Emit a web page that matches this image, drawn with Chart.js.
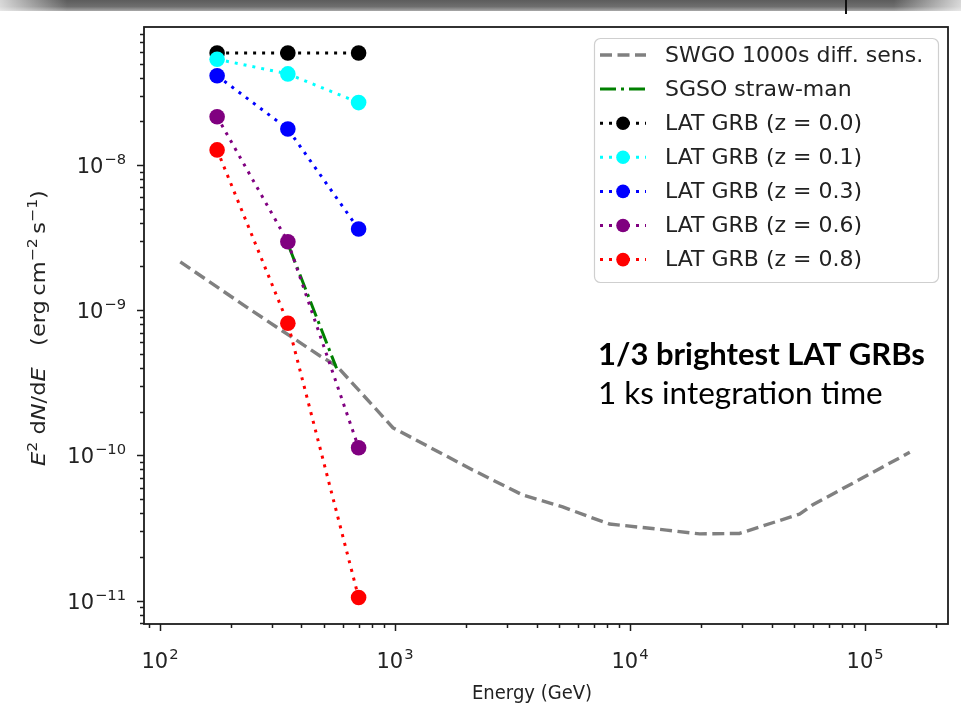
<!DOCTYPE html>
<html>
<head>
<meta charset="utf-8">
<script src="https://cdn.jsdelivr.net/npm/chart.js@4.4.1/dist/chart.umd.min.js"></script>
<style>
  html, body { margin: 0; padding: 0; background: #fff; }
  #wrap { position: relative; width: 961px; height: 715px; overflow: hidden; }
  #topbar {
    position: absolute; left: 0; top: 0; width: 961px; height: 11px;
    background:
      linear-gradient(to right, rgba(255,255,255,0.75), rgba(255,255,255,0) 7%, rgba(255,255,255,0) 93%, rgba(255,255,255,0.75)),
      linear-gradient(to bottom, #5c5c5c, #6e6e6e 60%, #a8a8a8);
  }
  #mark { position: absolute; left: 845px; top: 0; width: 2px; height: 14px; background: #111; }
</style>
</head>
<body>
<div id="wrap">
  <canvas id="c" width="961" height="715"></canvas>
  <div id="topbar"></div>
  <div id="mark"></div>
</div>
<script>
// ---- data (GeV, erg cm^-2 s^-1) ----
const latEnergy = [175, 350, 700];
const latZ00 = [5.9e-8, 5.9e-8, 5.9e-8];
const latZ01 = [5.35e-8, 4.24e-8, 2.69e-8];
const latZ03 = [4.12e-8, 1.77e-8, 3.62e-9];
const latZ06 = [2.15e-8, 2.96e-9, 1.13e-10];
const latZ08 = [1.27e-8, 8.13e-10, 1.05e-11];

const swgoEnergy = [122, 240, 480, 565, 980, 2140, 3500, 5170, 6730, 8180, 14300, 19800, 29200, 52600, 59700, 155000];
const swgoFlux = [2.15e-9, 1.02e-9, 4.84e-10, 4.13e-10, 1.55e-10, 7.94e-11, 5.33e-11, 4.42e-11, 3.77e-11, 3.37e-11, 3.06e-11, 2.88e-11, 2.90e-11, 3.94e-11, 4.55e-11, 1.05e-10];

const sgsoEnergy = [355, 564];
const sgsoFlux = [2.7e-9, 3.98e-10];

const seriesLabels = [
  'SWGO 1000s diff. sens.',
  'SGSO straw-man',
  'LAT GRB (z = 0.0)',
  'LAT GRB (z = 0.1)',
  'LAT GRB (z = 0.3)',
  'LAT GRB (z = 0.6)',
  'LAT GRB (z = 0.8)'
];

const xTickExponents = [2, 3, 4, 5];
const yTickExponents = [-8, -9, -10, -11];
const xRange = [85.5, 225400];
const yRange = [6.9e-12, 8.92e-8];

const xAxisTitle = 'Energy (GeV)';
const noteLines = ['1/3 brightest LAT GRBs', '1 ks integration time'];

// ---- helpers ----
const FONT = '"DejaVu Sans", sans-serif';
function pts(xs, ys) { return xs.map((x, i) => ({ x: x, y: ys[i] })); }

function latSeries(label, color, values, order) {
  return {
    label: label, data: pts(latEnergy, values), order: order,
    borderColor: color, backgroundColor: color, borderWidth: 3,
    borderDash: [3, 6], pointRadius: 7.8, pointHoverRadius: 7.8,
    pointBackgroundColor: color, pointBorderColor: color, pointBorderWidth: 0
  };
}

function drawPow(ctx, exp, x, y, align, size) {
  const base = '10';
  const sup = exp < 0 ? '\u2212' + Math.abs(exp) : String(exp);
  const supSize = size * 0.7;
  ctx.font = size + 'px ' + FONT;
  const wb = ctx.measureText(base).width;
  ctx.font = supSize + 'px ' + FONT;
  const ws = ctx.measureText(sup).width;
  const total = wb + 1 + ws;
  const x0 = align === 'center' ? x - total / 2 : x - total;
  ctx.textAlign = 'left';
  ctx.textBaseline = 'alphabetic';
  ctx.font = size + 'px ' + FONT;
  ctx.fillText(base, x0, y);
  ctx.font = supSize + 'px ' + FONT;
  ctx.fillText(sup, x0 + wb + 1, y - size * 0.43);
}

function minorValues(lo, hi) {
  const out = [];
  for (let e = Math.floor(Math.log10(lo)); e <= Math.ceil(Math.log10(hi)); e++) {
    for (let k = 2; k <= 9; k++) {
      const v = k * Math.pow(10, e);
      if (v >= lo && v <= hi) out.push(v);
    }
  }
  return out;
}

// frame, ticks, labels, legend and note, drawn on top of the plotted series
const decorations = {
  id: 'decorations',
  afterDraw(chart) {
    const ctx = chart.ctx;
    const a = chart.chartArea;
    const xs = chart.scales.x, ys = chart.scales.y;
    ctx.save();

    // axes box
    ctx.strokeStyle = '#1c1c1c';
    ctx.lineWidth = 1.8;
    ctx.strokeRect(a.left, a.top, a.right - a.left, a.bottom - a.top);

    // tick marks
    ctx.lineWidth = 1.5;
    ctx.beginPath();
    xTickExponents.forEach(e => {
      const px = Math.round(xs.getPixelForValue(Math.pow(10, e))) + 0.5;
      ctx.moveTo(px, a.bottom); ctx.lineTo(px, a.bottom + 7);
    });
    minorValues(xRange[0], xRange[1]).forEach(v => {
      const px = Math.round(xs.getPixelForValue(v)) + 0.5;
      ctx.moveTo(px, a.bottom); ctx.lineTo(px, a.bottom + 4);
    });
    yTickExponents.forEach(e => {
      const py = Math.round(ys.getPixelForValue(Math.pow(10, e))) + 0.5;
      ctx.moveTo(a.left, py); ctx.lineTo(a.left - 7, py);
    });
    minorValues(yRange[0], yRange[1]).forEach(v => {
      const py = Math.round(ys.getPixelForValue(v)) + 0.5;
      ctx.moveTo(a.left, py); ctx.lineTo(a.left - 4, py);
    });
    ctx.stroke();

    // tick labels
    ctx.fillStyle = '#222';
    xTickExponents.forEach(e => {
      drawPow(ctx, e, xs.getPixelForValue(Math.pow(10, e)), a.bottom + 44, 'center', 21);
    });
    yTickExponents.forEach(e => {
      drawPow(ctx, e, a.left - 18, ys.getPixelForValue(Math.pow(10, e)) + 8, 'right', 21);
    });

    // x axis title
    ctx.save();
    ctx.translate(532, 699);
    ctx.scale(0.9, 1);
    ctx.font = '20px ' + FONT;
    ctx.textAlign = 'center';
    ctx.textBaseline = 'alphabetic';
    ctx.fillText(xAxisTitle, 0, 0);
    ctx.restore();

    // y axis title (rotated, with italics and superscripts)
    const segs = [
      ['E', 'i'], ['2', 's'], [' d', 'n'], ['N', 'i'], ['/d', 'n'], ['E', 'i'],
      ['   (erg\u2009cm', 'n'], ['\u22122', 's'], ['\u2009s', 'n'], ['\u22121', 's'], [')', 'n']
    ];
    const tSize = 22.5, sSize = 15.7;
    const fontFor = k => k === 'i' ? 'italic ' + tSize + 'px ' + FONT
                       : k === 's' ? sSize + 'px ' + FONT : tSize + 'px ' + FONT;
    let total = 0;
    segs.forEach(s => { ctx.font = fontFor(s[1]); total += ctx.measureText(s[0]).width; });
    ctx.save();
    ctx.translate(45, 328);
    ctx.rotate(-Math.PI / 2);
    ctx.scale(1, 0.88);
    ctx.textAlign = 'left';
    ctx.textBaseline = 'alphabetic';
    let cx = -total / 2;
    segs.forEach(s => {
      ctx.font = fontFor(s[1]);
      ctx.fillText(s[0], cx, s[1] === 's' ? -9.5 : 0);
      cx += ctx.measureText(s[0]).width;
    });
    ctx.restore();

    // legend
    const lx = 594, ly = 38, lw = 344, lh = 244;
    ctx.beginPath();
    ctx.roundRect(lx + 0.5, ly + 0.5, lw, lh, 6);
    ctx.fillStyle = 'rgba(255,255,255,0.85)';
    ctx.fill();
    ctx.strokeStyle = '#cfcfcf';
    ctx.lineWidth = 1.2;
    ctx.stroke();
    chart.data.datasets.forEach((ds, i) => {
      const y = 55 + i * 34.1;
      ctx.save();
      ctx.strokeStyle = ds.borderColor;
      ctx.lineWidth = ds.borderWidth;
      ctx.setLineDash(ds.borderDash || []);
      ctx.beginPath();
      ctx.moveTo(600, y); ctx.lineTo(646, y);
      ctx.stroke();
      ctx.restore();
      if (ds.pointRadius > 0) {
        ctx.beginPath();
        ctx.arc(623, y, 6.8, 0, Math.PI * 2);
        ctx.fillStyle = ds.pointBackgroundColor;
        ctx.fill();
      }
      ctx.fillStyle = '#222';
      ctx.font = '22px ' + FONT;
      ctx.textAlign = 'left';
      ctx.textBaseline = 'middle';
      ctx.fillText(ds.label, 665, y + 1);
    });

    // note
    ctx.fillStyle = '#000';
    ctx.textAlign = 'left';
    ctx.textBaseline = 'alphabetic';
    ctx.font = 'bold 31px Lato, sans-serif';
    ctx.fillText(noteLines[0], 598, 365);
    ctx.font = '31.5px Lato, sans-serif';
    ctx.fillText(noteLines[1], 598, 404);

    ctx.restore();
  }
};

new Chart(document.getElementById('c'), {
  type: 'line',
  data: {
    datasets: [
      {
        label: seriesLabels[0], data: pts(swgoEnergy, swgoFlux), order: 7,
        borderColor: '#808080', borderWidth: 3.4, borderDash: [12, 5.5],
        pointRadius: 0, pointHoverRadius: 0
      },
      {
        label: seriesLabels[1], data: pts(sgsoEnergy, sgsoFlux), order: 6,
        borderColor: '#008000', borderWidth: 3, borderDash: [16, 5, 3, 5],
        pointRadius: 0, pointHoverRadius: 0
      },
      latSeries(seriesLabels[2], '#000000', latZ00, 5),
      latSeries(seriesLabels[3], '#00ffff', latZ01, 4),
      latSeries(seriesLabels[4], '#0000ff', latZ03, 3),
      latSeries(seriesLabels[5], '#800080', latZ06, 2),
      latSeries(seriesLabels[6], '#ff0000', latZ08, 1)
    ]
  },
  options: {
    responsive: false,
    animation: false,
    devicePixelRatio: 1,
    events: [],
    layout: { padding: { left: 144, right: 13, top: 27, bottom: 91 } },
    elements: { line: { tension: 0, fill: false } },
    plugins: { legend: { display: false }, tooltip: { enabled: false } },
    scales: {
      x: { type: 'logarithmic', min: xRange[0], max: xRange[1], display: false },
      y: { type: 'logarithmic', min: yRange[0], max: yRange[1], display: false }
    }
  },
  plugins: [decorations]
});
</script>
</body>
</html>
